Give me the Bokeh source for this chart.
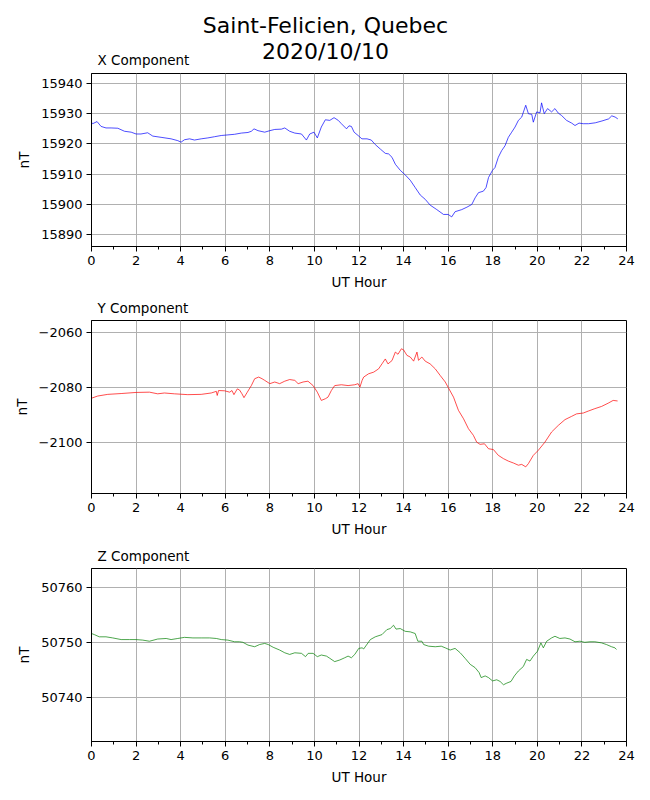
from bokeh.plotting import figure
from bokeh.layouts import column
from bokeh.models import (Range1d, FixedTicker, SingleIntervalTicker, Label,
                          CustomJSTickFormatter)
from bokeh.embed import file_html
from bokeh.resources import INLINE

# ---------------- data ----------------
x_hours = [0.00, 0.05, 0.25, 0.43, 0.65, 0.88, 1.18, 1.48, 1.78, 2.00, 2.22, 2.52, 2.75, 3.12,
           3.57, 3.87, 4.02, 4.17, 4.40, 4.62, 4.92, 5.22, 5.52, 5.82, 6.12, 6.42, 6.72, 7.02,
           7.17, 7.29, 7.47, 7.77, 8.00, 8.22, 8.52, 8.67, 8.89, 9.12, 9.42, 9.64, 9.79, 9.98,
           10.13, 10.31, 10.49, 10.69, 10.88, 11.07, 11.21, 11.44, 11.55, 11.66, 11.78, 11.96,
           12.13, 12.36, 12.55, 12.73, 12.96, 13.18, 13.33, 13.48, 13.63, 13.85, 14.07, 14.30,
           14.52, 14.75, 14.97, 15.19, 15.49, 15.79, 16.00, 16.16, 16.31, 16.61, 16.84, 17.06,
           17.21, 17.36, 17.58, 17.70, 17.81, 17.99, 18.10, 18.25, 18.40, 18.55, 18.70, 18.85,
           19.00, 19.15, 19.30, 19.48, 19.60, 19.75, 19.82, 19.97, 20.12, 20.19, 20.31, 20.46,
           20.64, 20.79, 20.94, 21.09, 21.31, 21.54, 21.69, 21.87, 22.06, 22.30, 22.60, 22.90,
           23.20, 23.34, 23.49, 23.61]
x_values = [15927.2, 15926.7, 15927.4, 15925.8, 15925.3, 15925.3, 15925.2, 15924.2, 15923.9,
            15923.3, 15923.3, 15923.7, 15922.6, 15922.2, 15921.7, 15921.1, 15920.6, 15921.4,
            15921.7, 15921.3, 15921.7, 15922.0, 15922.4, 15922.8, 15923.0, 15923.2, 15923.6,
            15923.8, 15924.2, 15925.0, 15924.4, 15923.9, 15924.4, 15924.8, 15924.9, 15925.3,
            15924.2, 15923.6, 15923.3, 15921.3, 15923.3, 15923.9, 15922.0, 15925.6, 15928.0,
            15927.8, 15928.7, 15927.8, 15926.7, 15925.0, 15926.0, 15925.8, 15923.9, 15922.8,
            15921.7, 15921.7, 15921.3, 15919.8, 15918.3, 15916.9, 15916.7, 15915.6, 15913.3,
            15911.3, 15909.8, 15908.0, 15905.6, 15903.1, 15901.7, 15899.8, 15898.3, 15896.7,
            15896.7, 15895.9, 15897.6, 15898.3, 15899.1, 15900.0, 15902.2, 15903.9, 15904.4,
            15905.6, 15908.9, 15911.3, 15912.2, 15915.6, 15917.8, 15919.4, 15922.2, 15923.9,
            15925.6, 15927.8, 15928.9, 15932.8, 15930.0, 15929.8, 15927.2, 15930.6, 15930.3,
            15933.6, 15930.0, 15931.7, 15930.6, 15931.7, 15930.2, 15929.4, 15927.8, 15926.9,
            15926.1, 15926.9, 15926.7, 15926.7, 15927.0, 15927.6, 15928.3, 15929.3, 15928.9,
            15928.3]

y_hours = [0.00, 0.28, 0.73, 1.33, 2.00, 2.60, 2.97, 3.27, 3.72, 4.32, 4.92, 5.37, 5.60, 5.64,
           5.70, 5.97, 6.20, 6.30, 6.39, 6.54, 6.64, 6.75, 6.84, 6.99, 7.17, 7.32, 7.50, 7.65,
           7.77, 8.00, 8.22, 8.44, 8.67, 8.89, 9.12, 9.27, 9.49, 9.71, 9.94, 10.13, 10.31,
           10.49, 10.61, 10.76, 10.91, 11.21, 11.51, 11.81, 11.96, 12.04, 12.14, 12.21, 12.43,
           12.66, 12.88, 13.03, 13.18, 13.30, 13.48, 13.63, 13.75, 13.90, 14.00, 14.15, 14.30,
           14.45, 14.60, 14.67, 14.82, 14.97, 15.19, 15.42, 15.64, 15.87, 16.01, 16.24, 16.46,
           16.69, 16.91, 17.13, 17.28, 17.43, 17.63, 17.81, 18.03, 18.25, 18.48, 18.70, 18.93,
           19.15, 19.30, 19.48, 19.60, 19.82, 20.04, 20.34, 20.64, 20.94, 21.24, 21.54, 21.76,
           22.06, 22.28, 22.58, 22.88, 23.18, 23.40, 23.60]
y_values = [-2083.8, -2083.0, -2082.4, -2082.1, -2081.7, -2081.6, -2082.2, -2081.9, -2082.2,
            -2082.5, -2082.4, -2081.9, -2081.3, -2082.8, -2081.0, -2081.1, -2081.6, -2081.0,
            -2082.5, -2080.4, -2080.8, -2082.2, -2083.6, -2081.6, -2079.2, -2076.7, -2076.1,
            -2076.7, -2077.3, -2078.5, -2077.9, -2078.5, -2077.6, -2077.0, -2077.3, -2078.5,
            -2077.9, -2077.6, -2079.2, -2081.6, -2084.6, -2084.0, -2083.4, -2081.0, -2079.2,
            -2078.9, -2079.2, -2078.9, -2078.5, -2079.8, -2077.3, -2076.1, -2074.9, -2074.3,
            -2073.1, -2071.3, -2069.5, -2071.3, -2070.1, -2067.0, -2067.8, -2065.8, -2066.2,
            -2068.2, -2068.8, -2070.3, -2067.0, -2070.0, -2068.8, -2070.3, -2071.3, -2073.1,
            -2075.5, -2077.9, -2080.0, -2083.4, -2088.2, -2091.3, -2094.9, -2097.3, -2099.8,
            -2100.6, -2100.4, -2102.2, -2102.5, -2104.6, -2105.8, -2106.7, -2107.4, -2108.2,
            -2107.9, -2108.8, -2107.6, -2104.6, -2102.8, -2099.8, -2096.1, -2093.7, -2091.6,
            -2090.4, -2089.5, -2089.2, -2088.5, -2087.6, -2086.8, -2085.6, -2084.6, -2084.8]

z_hours = [0.00, 0.13, 0.35, 0.65, 0.95, 1.33, 1.70, 2.00, 2.30, 2.60, 2.97, 3.35, 3.57, 3.87,
           4.17, 4.55, 4.92, 5.30, 5.60, 5.82, 6.12, 6.42, 6.64, 6.79, 7.02, 7.32, 7.54, 7.77,
           7.93, 8.15, 8.44, 8.67, 8.89, 9.12, 9.42, 9.60, 9.72, 9.94, 10.13, 10.31, 10.54,
           10.69, 10.91, 11.14, 11.36, 11.51, 11.66, 11.81, 11.99, 12.14, 12.21, 12.51, 12.73,
           13.03, 13.25, 13.40, 13.55, 13.66, 13.85, 14.07, 14.30, 14.52, 14.64, 14.82, 14.90,
           15.12, 15.42, 15.69, 15.87, 16.09, 16.31, 16.54, 16.76, 16.99, 17.21, 17.39, 17.48,
           17.66, 17.81, 17.99, 18.18, 18.33, 18.48, 18.63, 18.82, 18.97, 19.15, 19.37, 19.52,
           19.67, 19.82, 20.01, 20.16, 20.27, 20.42, 20.64, 20.79, 21.01, 21.24, 21.46, 21.69,
           21.91, 22.13, 22.36, 22.58, 22.88, 23.10, 23.33, 23.48, 23.55]
z_values = [50751.6, 50751.4, 50751.0, 50751.0, 50750.8, 50750.5, 50750.5, 50750.5, 50750.4,
            50750.2, 50750.6, 50750.7, 50750.5, 50750.7, 50750.9, 50750.8, 50750.8, 50750.8,
            50750.7, 50750.5, 50750.4, 50750.1, 50750.1, 50750.0, 50749.5, 50749.2, 50749.6,
            50749.8, 50749.6, 50749.1, 50748.6, 50748.1, 50747.8, 50748.1, 50748.0, 50747.4,
            50748.0, 50748.0, 50747.4, 50747.7, 50747.5, 50747.1, 50746.5, 50746.8, 50747.2,
            50747.5, 50747.2, 50747.8, 50748.9, 50749.0, 50748.8, 50750.5, 50751.0, 50751.4,
            50752.3, 50752.5, 50753.1, 50752.4, 50752.5, 50752.0, 50751.9, 50751.6, 50750.2,
            50750.2, 50749.6, 50749.3, 50749.2, 50749.3, 50749.0, 50748.6, 50748.9, 50748.1,
            50747.1, 50746.0, 50745.4, 50744.5, 50743.6, 50743.9, 50743.6, 50743.0, 50743.2,
            50742.9, 50742.3, 50742.6, 50742.9, 50743.9, 50744.8, 50745.6, 50746.9, 50746.6,
            50747.5, 50748.4, 50749.9, 50749.0, 50750.2, 50750.8, 50751.1, 50750.7, 50750.8,
            50750.6, 50750.1, 50750.2, 50750.0, 50750.1, 50750.1, 50749.9, 50749.6,
            50749.2, 50749.0, 50748.7]

x_comp_ticks = [15890, 15900, 15910, 15920, 15930, 15940]
y_comp_ticks = [-2100, -2080, -2060]
z_comp_ticks = [50740, 50750, 50760]

suptitle_lines = ["Saint-Felicien, Quebec", "2020/10/10"]
panel_titles = ["X Component", "Y Component", "Z Component"]
line_colors = ["#0000ff", "#ff0000", "#008000"]

FONT = "DejaVu Sans"
FRAME_H = 173
WIDTH = 642
LEFT = 91
RIGHT = 16
HEADER_H = 69


def style_title(p, text):
    p.title.text = text
    p.title.align = "left"
    p.title.offset = 6
    p.title.standoff = 9
    p.title.text_font = FONT
    p.title.text_font_size = "13.5px"
    p.title.text_font_style = "normal"
    p.title.text_color = "black"


def make_panel(title, hours, values, color, yticks, yrange, top_border, bottom_border):
    p = figure(width=WIDTH, height=top_border + FRAME_H + bottom_border,
               x_range=Range1d(0, 24), y_range=Range1d(*yrange),
               output_backend="svg", toolbar_location=None,
               min_border_left=LEFT, min_border_right=RIGHT, min_border_top=top_border,
               min_border_bottom=bottom_border)
    p.line(hours, values, line_color=color, line_width=0.7)
    p.outline_line_color = "black"
    p.outline_line_width = 1
    p.outline_line_alpha = 1

    xt = SingleIntervalTicker(interval=2, num_minor_ticks=2)
    p.xaxis.ticker = xt
    p.xgrid.ticker = xt
    yt = FixedTicker(ticks=yticks)
    p.yaxis.ticker = yt
    p.ygrid.ticker = yt
    p.yaxis.formatter = CustomJSTickFormatter(
        code="return tick < 0 ? '\\u2212' + Math.abs(tick) : String(tick);")

    for ax in (p.xaxis[0], p.yaxis[0]):
        ax.axis_line_color = "black"
        ax.major_tick_line_color = "black"
        ax.major_tick_out = 5
        ax.major_tick_in = 0
        ax.minor_tick_out = 3
        ax.minor_tick_in = 0
        ax.major_label_text_font = FONT
        ax.major_label_text_font_size = "13px"
        ax.major_label_text_color = "black"
        ax.axis_label_text_font = FONT
        ax.axis_label_text_font_size = "13.5px"
        ax.axis_label_text_font_style = "normal"
        ax.axis_label_text_color = "black"
        ax.major_label_standoff = 4
        ax.axis_label_standoff = 6
    p.yaxis.minor_tick_line_color = None
    p.xaxis.minor_tick_line_color = "black"
    p.xaxis.axis_label = "UT Hour"
    p.yaxis.axis_label = "nT"

    for g in (p.xgrid[0], p.ygrid[0]):
        g.grid_line_color = "#b0b0b0"
        g.grid_line_width = 1

    if title:
        style_title(p, title)
    return p


# header: suptitle and the first panel's title (its frame is aligned with the panels)
header = figure(width=WIDTH, height=HEADER_H, x_range=Range1d(0, 1),
                y_range=Range1d(0, 1), output_backend="svg", toolbar_location=None,
                x_axis_location=None, y_axis_location=None,
                min_border_left=LEFT, min_border_right=RIGHT,
                min_border_top=0, min_border_bottom=0)
header.title = None
header.outline_line_color = None
header.xgrid.visible = False
header.ygrid.visible = False


def header_label(x, baseline_from_top, text, size):
    # screen units: x from frame left, y from frame bottom
    header.add_layout(Label(x=x, y=HEADER_H - baseline_from_top + 0.4 * size,
                            x_units="screen", y_units="screen",
                            text=text, text_font=FONT, text_font_size=f"{size}px",
                            text_color="black",
                            text_align="center" if x > 100 else "left",
                            text_baseline="alphabetic"))


header_label(325 - LEFT, 33.5, suptitle_lines[0], 22)
header_label(325 - LEFT, 60.0, suptitle_lines[1], 22)
header_label(6, 64.5, panel_titles[0], 13.5)

p1 = make_panel(None, x_hours, x_values, line_colors[0], x_comp_ticks,
                (15886.1, 15943.3), 73 - HEADER_H, 46)
p2 = make_panel(panel_titles[1], y_hours, y_values, line_colors[1], y_comp_ticks,
                (-2118.5, -2055.5), 28, 46)
p3 = make_panel(panel_titles[2], z_hours, z_values, line_colors[2], z_comp_ticks,
                (50732.0, 50763.4), 29, 50)

layout = column(header, p1, p2, p3, spacing=0)
open("out.html", "w").write(file_html(layout, INLINE))
